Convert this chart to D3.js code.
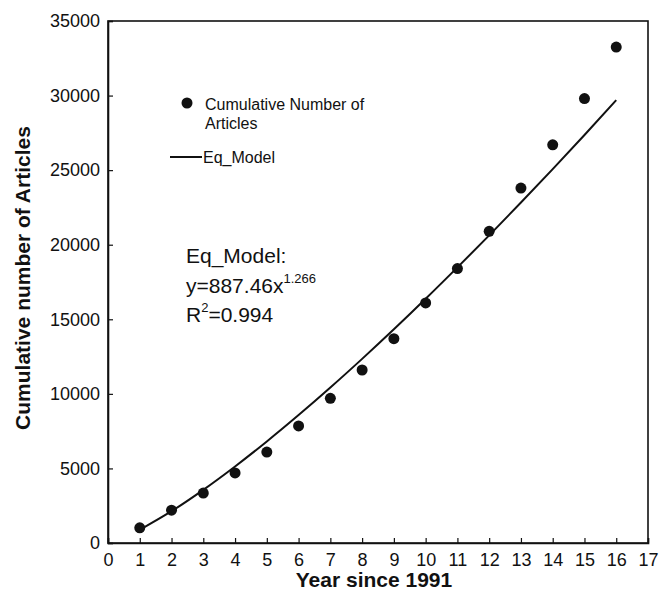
<!DOCTYPE html>
<html><head><meta charset="utf-8">
<script src="https://cdn.jsdelivr.net/npm/d3@7"></script>
<style>body{margin:0;background:#fff;} text{font-family:Arial,"Liberation Sans",sans-serif;fill:#111;}</style>
</head><body>
<svg id="c" width="659" height="596"></svg>
<script>
const years = [1,2,3,4,5,6,7,8,9,10,11,12,13,14,15,16];
const articles = [1020,2200,3350,4700,6100,7850,9700,11600,13700,16100,18400,20900,23800,26700,29800,33250];
const modelValues = [887,2134,3566,5133,6808,8576,10424,12345,14327,16373,18478,20625,22827,25071,27354,29690];
const xTicks = d3.range(0,18);
const yTicks = [0,5000,10000,15000,20000,25000,30000,35000];

const svg = d3.select("#c");
const L=108, R=648, T=21, B=543;
const x = d3.scaleLinear().domain([0,17]).range([L,R]);
const y = d3.scaleLinear().domain([0,35000]).range([B,T]);

// frame
svg.append("rect").attr("x",L).attr("y",T).attr("width",R-L).attr("height",B-T)
  .attr("fill","none").attr("stroke","#111").attr("stroke-width",1.6);

const xa = svg.append("g").attr("transform",`translate(0,${B})`)
  .call(d3.axisBottom(x).tickValues(xTicks).tickSize(-5).tickPadding(10).tickFormat(d3.format("d")));
const ya = svg.append("g").attr("transform",`translate(${L},0)`)
  .call(d3.axisLeft(y).tickValues(yTicks).tickSize(-5).tickPadding(8).tickFormat(d3.format("d")));
[xa,ya].forEach(a=>{
  a.select(".domain").attr("stroke","#111").attr("stroke-width",1.6);
  a.selectAll(".tick line").attr("stroke","#111").attr("stroke-width",1.2);
  a.selectAll(".tick text").attr("font-size",18).attr("fill","#111")
   .style("font-family","Arial, 'Liberation Sans', sans-serif");
});

// model line
svg.append("path").datum(years.map((d,i)=>[d,modelValues[i]]))
  .attr("fill","none").attr("stroke","#111").attr("stroke-width",2)
  .attr("d", d3.line().x(d=>x(d[0])).y(d=>y(d[1])).curve(d3.curveMonotoneX));

// points
svg.append("g").selectAll("circle").data(years.map((d,i)=>[d,articles[i]])).join("circle")
  .attr("cx",d=>x(d[0])).attr("cy",d=>y(d[1])).attr("r",5.5).attr("fill","#111");

// legend
svg.append("circle").attr("cx",187).attr("cy",103).attr("r",5.5).attr("fill","#111");
svg.append("text").attr("x",205).attr("y",110).attr("font-size",16).text("Cumulative Number of");
svg.append("text").attr("x",205).attr("y",129).attr("font-size",16).text("Articles");
svg.append("line").attr("x1",170).attr("x2",202).attr("y1",157).attr("y2",157).attr("stroke","#111").attr("stroke-width",2);
svg.append("text").attr("x",203).attr("y",163).attr("font-size",16).text("Eq_Model");

// annotation
svg.append("text").attr("x",186).attr("y",263).attr("font-size",21).text("Eq_Model:");
const t2 = svg.append("text").attr("x",186).attr("y",293).attr("font-size",21);
t2.append("tspan").text("y=887.46x");
t2.append("tspan").attr("font-size",13).attr("dy",-10).text("1.266");
const t3 = svg.append("text").attr("x",186).attr("y",322).attr("font-size",21);
t3.append("tspan").text("R");
t3.append("tspan").attr("font-size",13).attr("dy",-10).text("2");
t3.append("tspan").attr("dy",10).text("=0.994");

// axis titles
svg.append("text").attr("x",374).attr("y",587).attr("text-anchor","middle")
  .attr("font-size",21).attr("font-weight","bold").text("Year since 1991");
svg.append("text").attr("transform","translate(30,278) rotate(-90)").attr("text-anchor","middle")
  .attr("font-size",21).attr("font-weight","bold").text("Cumulative number of Articles");
</script>
</body></html>
